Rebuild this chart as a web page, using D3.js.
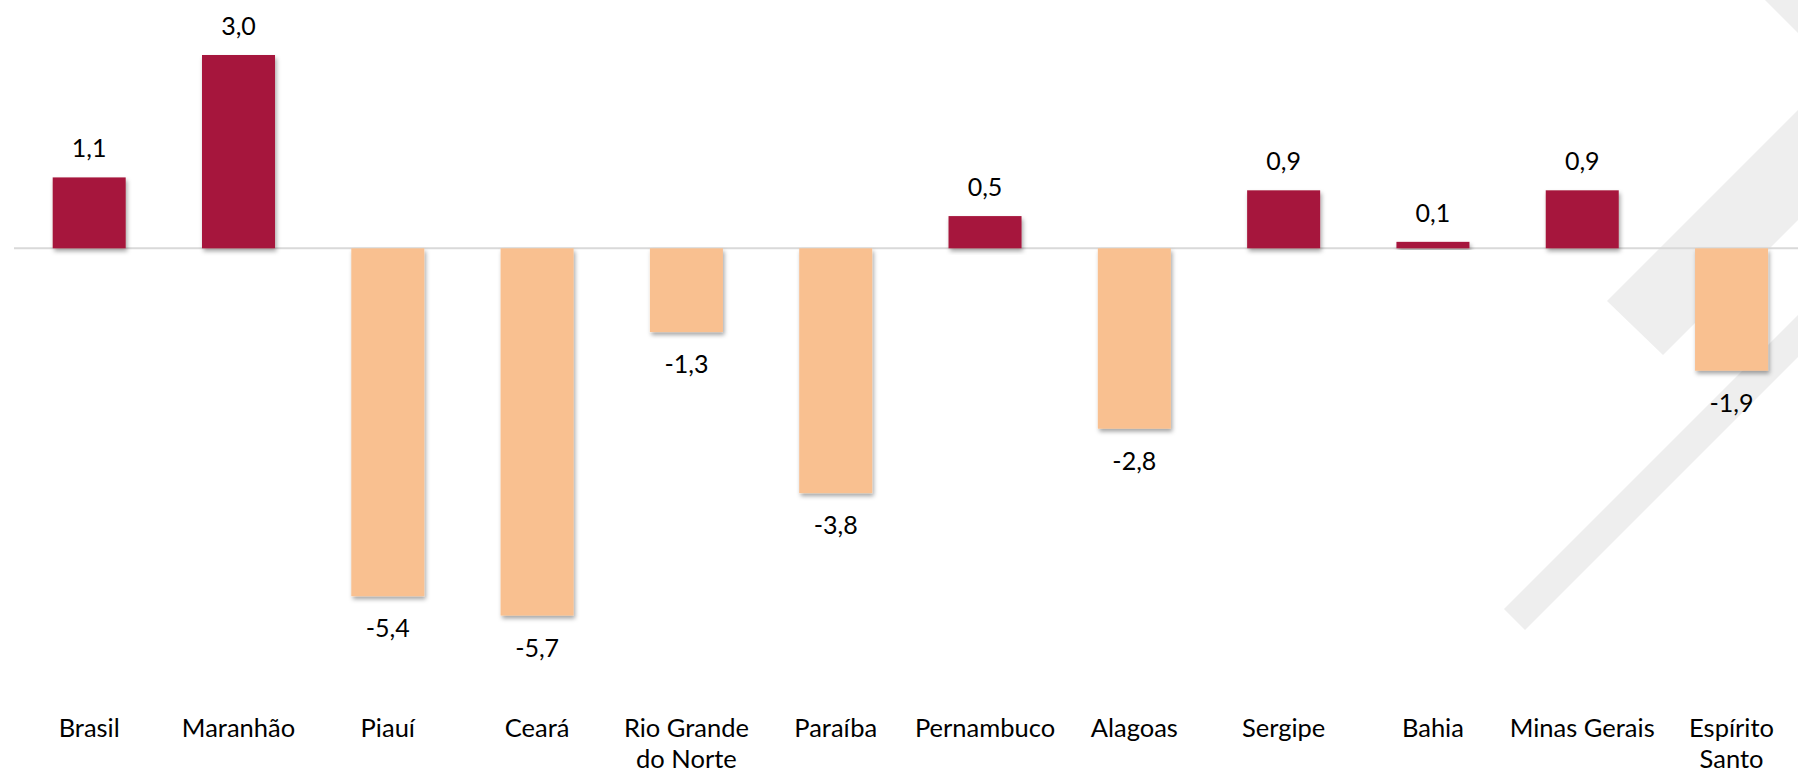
<!DOCTYPE html>
<html>
<head>
<meta charset="utf-8">
<script src="https://cdn.jsdelivr.net/npm/d3@7"></script>
<style>
  html, body { margin: 0; padding: 0; background: #fff; }
  svg { display: block; }
  text { font-family: Lato, "Open Sans", sans-serif; fill: #000; }
</style>
</head>
<body>
<svg id="chart" width="1798" height="773"></svg>
<script>
const categories = ["Brasil", "Maranhão", "Piauí", "Ceará", "Rio Grande|do Norte", "Paraíba",
  "Pernambuco", "Alagoas", "Sergipe", "Bahia", "Minas Gerais", "Espírito|Santo"];
const values = [1.1, 3.0, -5.4, -5.7, -1.3, -3.8, 0.5, -2.8, 0.9, 0.1, 0.9, -1.9];
const valueLabels = ["1,1", "3,0", "-5,4", "-5,7", "-1,3", "-3,8", "0,5", "-2,8", "0,9", "0,1", "0,9", "-1,9"];

const W = 1798, H = 773;
const svg = d3.select("#chart");

// decorative background stripes
const deco = svg.append("g").attr("fill", "#eeeeee");
[
  [[1607, 301], [1663, 355], [1798, 220], [1798, 110]],
  [[1765, 0], [1798, 33], [1798, 0]],
  [[1504, 609], [1525, 630], [1798, 357], [1798, 315]]
].forEach(p => deco.append("polygon").attr("points", p.map(d => d.join(",")).join(" ")));

const defs = svg.append("defs");
const f = defs.append("filter").attr("id", "shadow").attr("x", "-20%").attr("y", "-20%").attr("width", "140%").attr("height", "140%");
f.append("feDropShadow").attr("dx", 1.5).attr("dy", 3).attr("stdDeviation", 2)
  .attr("flood-color", "#000").attr("flood-opacity", 0.35);

const x = d3.scaleBand().domain(categories).range([14.55, 1806.2]).paddingInner(0.511).paddingOuter(0.2555);
const y = d3.scaleLinear().domain([0, 3]).range([248.3, 55]);

// zero line
svg.append("line")
  .attr("x1", 14).attr("x2", W)
  .attr("y1", y(0)).attr("y2", y(0))
  .attr("stroke", "#d9d9d9").attr("stroke-width", 2);

// bars
svg.append("g").selectAll("rect").data(values).join("rect")
  .attr("x", (d, i) => x(categories[i]))
  .attr("width", x.bandwidth())
  .attr("y", d => d >= 0 ? y(d) : y(0))
  .attr("height", d => Math.abs(y(d) - y(0)))
  .attr("fill", d => d >= 0 ? "#a6193c" : "#f9c090")
  .attr("filter", "url(#shadow)");

// value labels
svg.append("g").selectAll("text").data(values).join("text")
  .attr("x", (d, i) => x(categories[i]) + x.bandwidth() / 2)
  .attr("y", d => d >= 0 ? y(d) - 20 : y(d) + 41)
  .attr("text-anchor", "middle")
  .attr("font-size", 25)
  .text((d, i) => valueLabels[i]);

// category labels
const cat = svg.append("g").selectAll("text").data(categories).join("text")
  .attr("x", d => x(d) + x.bandwidth() / 2)
  .attr("y", 737)
  .attr("text-anchor", "middle")
  .attr("font-size", 25.5);
cat.each(function(d) {
  const parts = d.split("|");
  const t = d3.select(this);
  parts.forEach((p, k) => {
    t.append("tspan").attr("x", t.attr("x")).attr("dy", k === 0 ? 0 : 31).text(p);
  });
});
</script>
</body>
</html>
